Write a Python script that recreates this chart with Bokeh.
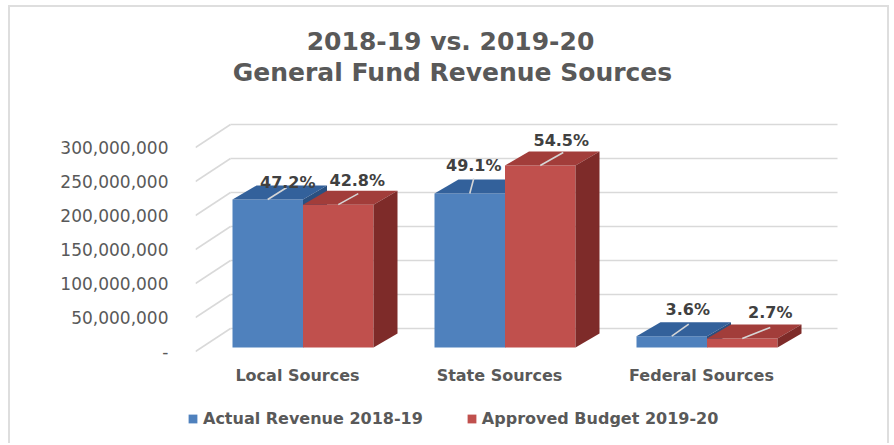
from bokeh.plotting import figure
from bokeh.layouts import column
from bokeh.models import (Range1d, FixedTicker, Legend, LegendItem,
                          ColumnDataSource)
from bokeh.core.properties import value
from bokeh.embed import file_html
from bokeh.resources import INLINE

# ---------------- data ----------------
categories = ["Local Sources", "State Sources", "Federal Sources"]
series_names = ["Actual Revenue 2018-19", "Approved Budget 2019-20"]
actual_revenue = [217.6e6, 226.4e6, 16.6e6]
approved_budget = [210.1e6, 267.6e6, 13.3e6]
actual_pct = ["47.2%", "49.1%", "3.6%"]
budget_pct = ["42.8%", "54.5%", "2.7%"]
y_ticks = [0, 50_000_000, 100_000_000, 150_000_000, 200_000_000, 250_000_000, 300_000_000]
title_lines = ["2018-19 vs. 2019-20", "General Fund Revenue Sources"]

# ---------------- geometry / style ----------------
W, HT, H1, H2 = 877, 108, 280, 48
ML, MR, MT, MB = 185, 47, 0, 40
FW, FH = W - ML - MR, H1 - MT - MB
PX_X = 202.0          # pixels per category
PX_Y = 0.68e-6        # pixels per currency unit

x_start = -102.0 / PX_X
x_end = x_start + FW / PX_X
y_start = -4.0 / PX_Y
y_end = y_start + FH / PX_Y


def dxp(px):
    return px / PX_X


def dyp(px):
    return px / PX_Y


bar_w = dxp(70.5)
shift_x, shift_y = dxp(5.5), dyp(4)
depth_x, depth_y = dxp(24), dyp(14)
wall_x, wall_y = dxp(35), dyp(23)
plane_right = x_start + dxp(607)

FONT = "DejaVu Sans"
GREY = "#595959"

colors = [
    {"front": "#4f81bd", "top": "#33619b", "side": "#2a5080"},
    {"front": "#c0504d", "top": "#a23d3a", "side": "#7e2b29"},
]
label_dx = [[20, 4, 16], [19, 21, 28]]
label_dy = [[17, 28, 27], [24, 25, 26]]
leader_dx = [[19, 4, 17], [20, 23, 28]]
leader_dy = [[12, 15, 12], [11, 13, 11]]


def strip(height):
    f = figure(width=W, height=height, output_backend="svg", toolbar_location=None,
               x_range=Range1d(0, W), y_range=Range1d(height, 0),
               x_axis_location=None, y_axis_location=None, min_border=0,
               background_fill_color="white", border_fill_color="white",
               outline_line_color=None, frame_align=False)
    f.grid.visible = False
    return f


# ---------------- title strip ----------------
tf = strip(HT)
tf.text(x=[440, 442], y=[34, 65], text=title_lines,
        text_font=value(FONT), text_font_size="25px", text_font_style="bold",
        text_color=GREY, text_align="center", text_baseline="alphabetic")

# ---------------- main chart ----------------
p = figure(width=W, height=H1, output_backend="svg", toolbar_location=None,
           x_range=Range1d(x_start, x_end), y_range=Range1d(y_start, y_end),
           min_border_left=ML, min_border_right=MR, min_border_top=MT,
           min_border_bottom=MB, background_fill_color="white",
           border_fill_color="white", outline_line_color=None, frame_align=False)
p.xgrid.visible = False
p.ygrid.visible = False

# walls (back wall gridlines + side wall diagonals)
p.segment(x0=[x_start + wall_x] * len(y_ticks), y0=[v + wall_y for v in y_ticks],
          x1=[plane_right + wall_x] * len(y_ticks), y1=[v + wall_y for v in y_ticks],
          line_color="#d9d9d9", line_width=1.5)
p.segment(x0=[x_start] * len(y_ticks), y0=list(y_ticks),
          x1=[x_start + wall_x] * len(y_ticks), y1=[v + wall_y for v in y_ticks],
          line_color="#d9d9d9", line_width=1.5)

# bars
series_values = [actual_revenue, approved_budget]
series_pct = [actual_pct, budget_pct]
for k, vals in enumerate(series_values):
    xl = [i + shift_x + (k - 1) * bar_w for i in range(len(categories))]
    xr = [x + bar_w for x in xl]
    yb = [shift_y] * len(vals)
    yt = [shift_y + v for v in vals]
    c = colors[k]
    p.quad(left=xl, right=xr, bottom=yb, top=yt, fill_color=c["front"],
           line_color=None)
    p.patches(xs=[[a, b, b + depth_x, a + depth_x] for a, b in zip(xl, xr)],
              ys=[[t, t, t + depth_y, t + depth_y] for t in yt],
              fill_color=c["top"], line_color=None)
    p.patches(xs=[[b, b + depth_x, b + depth_x, b] for b in xr],
              ys=[[bb, bb + depth_y, t + depth_y, t] for bb, t in zip(yb, yt)],
              fill_color=c["side"], line_color=None)

# leader lines + data labels
for k, vals in enumerate(series_values):
    cx = [i + shift_x + (k - 1) * bar_w + bar_w / 2 for i in range(len(categories))]
    yt = [shift_y + v for v in vals]
    p.segment(x0=cx, y0=yt,
              x1=[x + dxp(d) for x, d in zip(cx, leader_dx[k])],
              y1=[t + dyp(d) for t, d in zip(yt, leader_dy[k])],
              line_color="#d6d6d6", line_width=1.6)
    src = ColumnDataSource(dict(x=cx, y=yt, text=series_pct[k],
                                xo=label_dx[k], yo=[-d for d in label_dy[k]]))
    p.text(x="x", y="y", text="text", x_offset="xo", y_offset="yo", source=src,
           text_font=value(FONT), text_font_size="16px", text_font_style="bold",
           text_color="#404040", text_align="center", text_baseline="middle")

# axes
p.yaxis.ticker = FixedTicker(ticks=y_ticks)
p.yaxis.major_label_overrides = {t: ("-" if t == 0 else f"{t:,}") for t in y_ticks}
p.yaxis.axis_line_color = None
p.yaxis.major_tick_line_color = None
p.yaxis.minor_tick_line_color = None
p.yaxis.major_tick_out = 0
p.yaxis.major_tick_in = 0
p.yaxis.major_label_standoff = 27
p.yaxis.major_label_text_font = FONT
p.yaxis.major_label_text_font_size = "17px"
p.yaxis.major_label_text_color = GREY

p.xaxis.ticker = FixedTicker(ticks=list(range(len(categories))))
p.xaxis.major_label_overrides = {i: c for i, c in enumerate(categories)}
p.xaxis.axis_line_color = None
p.xaxis.major_tick_line_color = None
p.xaxis.minor_tick_line_color = None
p.xaxis.major_tick_out = 0
p.xaxis.major_tick_in = 0
p.xaxis.major_label_standoff = 10
p.xaxis.major_label_text_font = FONT
p.xaxis.major_label_text_font_size = "16px"
p.xaxis.major_label_text_font_style = "bold"
p.xaxis.major_label_text_color = GREY

# ---------------- legend strip ----------------
lg = strip(H2)
proxies = [lg.quad(left=[0], right=[0], bottom=[0], top=[0], fill_color=c["front"],
                   line_color=None) for c in colors]
legend = Legend(items=[LegendItem(label=series_names[k], renderers=[proxies[k]])
                       for k in range(2)],
                orientation="horizontal", location=(177, 15),
                label_text_font=FONT, label_text_font_size="16px",
                label_text_font_style="bold", label_text_color=GREY,
                glyph_width=11, glyph_height=11, label_standoff=5, spacing=43,
                padding=0, margin=0, border_line_color=None,
                background_fill_alpha=0)
lg.add_layout(legend)

layout = column(tf, p, lg, spacing=0,
                styles={"margin": "5px 0px 0px 8px",
                        "border-top": "2px solid #dedede",
                        "border-left": "2px solid #dedede",
                        "border-right": "2px solid #dedede"})

open("out.html", "w").write(file_html(layout, INLINE))
